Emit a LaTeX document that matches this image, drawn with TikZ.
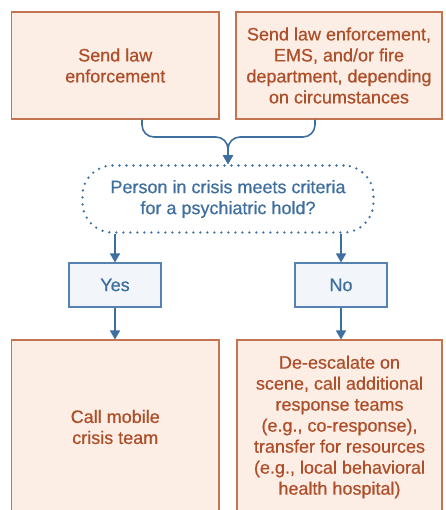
\documentclass[tikz,border=0pt]{standalone}
\usepackage{fontspec}
\setmainfont{Liberation Sans}
\newfontfamily\chartfont[FakeBold=0.6]{Liberation Sans}
\usetikzlibrary{arrows.meta,calc}
\definecolor{peachfill}{HTML}{FCEEE5}
\definecolor{peachline}{HTML}{C27453}
\definecolor{rusttext}{HTML}{AE4F2B}
\definecolor{flowblue}{HTML}{3F6F9F}
\definecolor{answerfill}{HTML}{F2F6FB}
\definecolor{answerline}{HTML}{5582B0}
\tikzset{
  every node/.style={font=\chartfont\fontsize{18}{21}\selectfont},
  action/.style={rectangle, draw=peachline, fill=peachfill, line width=1.1pt,
    text=rusttext, align=center, inner sep=0pt},
  question/.style={rectangle, rounded corners=30pt, draw=flowblue, line width=2.6pt,
    dash pattern=on 0pt off 7pt, line cap=round, text=flowblue, align=center,
    inner sep=0pt, minimum width=291pt, minimum height=67pt},
  answer/.style={rectangle, draw=answerline, fill=answerfill, line width=1.1pt,
    text=flowblue, inner sep=0pt, minimum width=92pt, minimum height=44pt},
  flow/.style={draw=flowblue, line width=1.6pt,
    -{Triangle[length=9pt,width=10pt]}},
}
\begin{document}
\begin{tikzpicture}[x=1pt,y=-1pt]
\path[use as bounding box, clip] (0,0) rectangle (445,510);

% dispatch options
\node[action, minimum width=207.5pt, minimum height=107pt] (tl) at (115.25,65.5)
  {Send law\\enforcement};
\node[action, minimum width=206pt, minimum height=107pt] (tr) at (339,65.5)
  {Send law enforcement,\\EMS, and/or fire\\department, depending\\on circumstances};

% decision
\node[question] (q) at (228,199)
  {Person in crisis meets criteria\\for a psychiatric hold?};

\node[answer] (yes) at (115,285) {Yes};
\node[answer] (no) at (341,285) {No};

% outcomes
\node[action, minimum width=207.5pt, minimum height=174pt] (bl) at (115.25,427)
  {Call mobile\\crisis team};
\node[action, minimum width=205pt, minimum height=174pt] (br) at (339.5,427)
  {De-escalate on\\scene, call additional\\response teams\\(e.g., co-response),\\transfer for resources\\(e.g., local behavioral\\health hospital)};

% merging connector
\coordinate (merge) at (228,137);
\draw[flow, rounded corners=12pt] ($(tl.south)+(26.75,0)$) |- (merge) -- (q.north);
\draw[flow, rounded corners=12pt] ($(tr.south)+(-24,0)$) |- (merge) -- (q.north);

% branches
\draw[flow] (q.south -| yes.north) -- (yes.north);
\draw[flow] (q.south -| no.north) -- (no.north);
\draw[flow] (yes.south) -- (yes.south |- bl.north);
\draw[flow] (no.south) -- (no.south |- br.north);
\end{tikzpicture}
\end{document}
